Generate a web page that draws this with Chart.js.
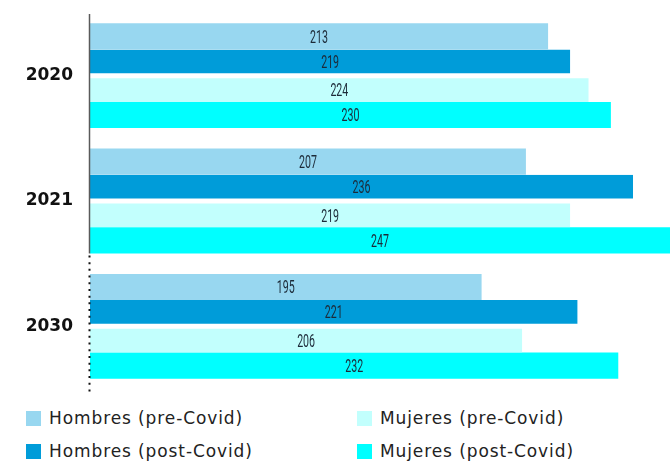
<!DOCTYPE html>
<html>
<head>
<meta charset="utf-8">
<script src="https://cdn.jsdelivr.net/npm/chart.js@4.4.1/dist/chart.umd.min.js"></script>
<style>
	html, body { margin: 0; padding: 0; background: #fff; }
	#wrap { position: relative; width: 670px; height: 461px; overflow: hidden; }
	#chart { position: absolute; left: 0; top: 0; }
	.legend-item {
		position: absolute;
		display: flex;
		align-items: center;
		height: 16px;
		font-family: "DejaVu Sans", sans-serif;
		font-size: 17px;
		letter-spacing: 0.9px;
		color: #222;
		white-space: nowrap;
	}
	.legend-item span.box { display: inline-block; width: 15px; height: 15px; margin-right: 8px; }
</style>
</head>
<body>
<div id="wrap">
	<canvas id="chart" width="670" height="398"></canvas>
</div>
<script>
// data
const years         = ['2020', '2021', '2030'];
const hombresPre    = [213, 207, 195];
const hombresPost   = [219, 236, 221];
const mujeresPre    = [224, 219, 206];
const mujeresPost   = [230, 247, 232];

const seriesLabels  = ['Hombres (pre-Covid)', 'Hombres (post-Covid)', 'Mujeres (pre-Covid)', 'Mujeres (post-Covid)'];
const seriesColors  = ['#98d7f0', '#009cd9', '#c2fffd', '#00ffff'];
const seriesValues  = [hombresPre, hombresPost, mujeresPre, mujeresPost];

// white edge that opens the small gap between the hombres and mujeres pair
const gapBorders = [
	{top: 0, right: 0, bottom: 0, left: 0},
	{top: 0, right: 0, bottom: 2.5, left: 0},
	{top: 2.5, right: 0, bottom: 0, left: 0},
	{top: 0, right: 0, bottom: 0, left: 0},
];

const valueLabels = {
	id: 'valueLabels',
	afterDatasetsDraw (chart) {
		const ctx = chart.ctx;
		const area = chart.chartArea;
		ctx.save();
		ctx.font = '400 19px Roboto';
		ctx.fillStyle = '#1c2a38';
		ctx.textAlign = 'center';
		ctx.textBaseline = 'middle';
		chart.data.datasets.forEach((ds, i) => {
			const meta = chart.getDatasetMeta(i);
			const bw = gapBorders[i];
			meta.data.forEach((bar, j) => {
				const left = Math.max(bar.base, area.left);
				const right = Math.min(bar.x, area.right);
				const cx = (left + right) / 2;
				const cy = bar.y + (bw.top - bw.bottom) / 2 + 1.5;
				ctx.save();
				ctx.translate(cx, cy);
				ctx.scale(0.56, 1);
				ctx.fillText(String(ds.data[j]), 0, 0);
				ctx.restore();
			});
		});
		ctx.restore();
	}
};

const axisLine = {
	id: 'axisLine',
	afterDatasetsDraw (chart) {
		const ctx = chart.ctx;
		const area = chart.chartArea;
		const last = chart.getDatasetMeta(3).data[1];
		const split = last.y + last.height / 2;
		const x = area.left - 0.5;
		ctx.save();
		ctx.strokeStyle = '#5a5a5a';
		ctx.lineWidth = 1.5;
		ctx.beginPath();
		ctx.moveTo(x, area.top + 1);
		ctx.lineTo(x, split);
		ctx.stroke();
		ctx.strokeStyle = '#111';
		ctx.lineWidth = 2;
		ctx.setLineDash([2, 4.7]);
		ctx.beginPath();
		ctx.moveTo(x, split + 2);
		ctx.lineTo(x, area.bottom + 4);
		ctx.stroke();
		ctx.restore();
	}
};

new Chart('chart', {
	type: 'bar',
	data: {
		labels: years,
		datasets: seriesLabels.map((label, i) => ({
			label: label,
			data: seriesValues[i],
			backgroundColor: seriesColors[i],
			borderColor: '#ffffff',
			borderWidth: gapBorders[i],
			borderSkipped: false,
			categoryPercentage: 0.837,
			barPercentage: 1,
		})),
	},
	options: {
		indexAxis: 'y',
		responsive: false,
		animation: false,
		layout: {padding: {top: 13, bottom: 9, left: 0, right: 0}},
		plugins: {
			legend: {display: false},
			tooltip: {enabled: false},
		},
		scales: {
			x: {
				display: false,
				min: 89,
				max: 246,
			},
			y: {
				grid: {display: false, drawTicks: false},
				border: {display: false},
				ticks: {
					padding: 17,
					color: '#111',
					font: {family: 'DejaVu Sans', size: 17, weight: 'bold'},
				},
				afterFit (scale) {
					scale.width = 90;
					scale.paddingTop = 0;
					scale.paddingBottom = 0;
				},
			},
		},
	},
	plugins: [valueLabels, axisLine],
});

// legend, two columns, column by column
const legendCols = [26, 357];
const legendRows = [410, 443];
const wrap = document.getElementById('wrap');
seriesLabels.forEach((label, i) => {
	const item = document.createElement('div');
	item.className = 'legend-item';
	item.style.left = legendCols[i >> 1] + 'px';
	item.style.top = legendRows[i & 1] + 'px';
	item.innerHTML = '<span class="box" style="background:' + seriesColors[i] + '"></span>' + label;
	wrap.appendChild(item);
});
</script>
</body>
</html>
